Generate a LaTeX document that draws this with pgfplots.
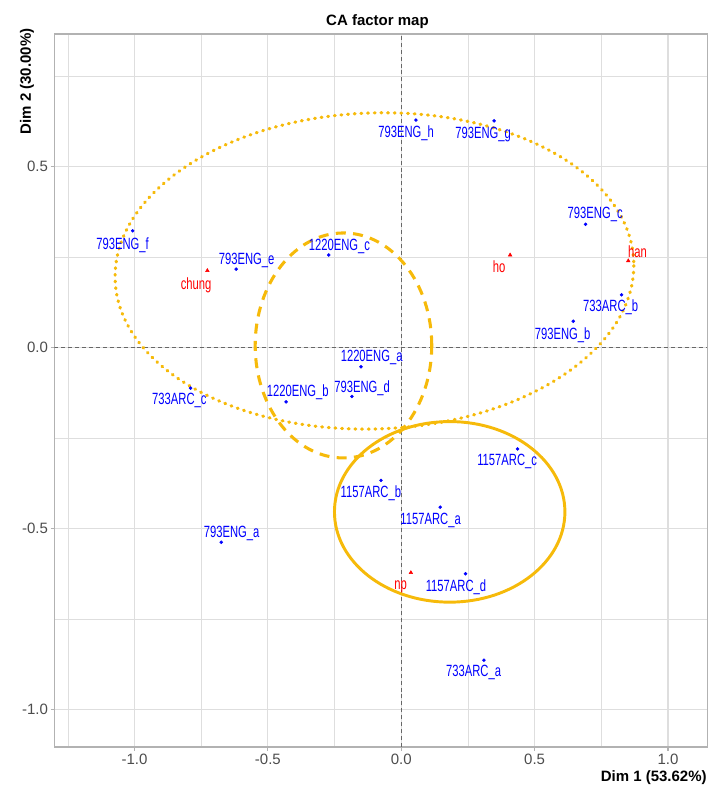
\documentclass[border=0pt]{standalone}
\usepackage{pgfplots}
\pgfplotsset{compat=1.18}
\usepackage{pgfplotstable}
\usepackage{fontspec}
\setmainfont{Liberation Sans}
\newfontfamily\narrowfont[FakeStretch=0.69]{Liberation Sans}
\definecolor{grid87}{gray}{0.87}
\definecolor{grey70}{gray}{0.70}
\definecolor{grey30}{gray}{0.30}
\definecolor{ellcol}{RGB}{246,186,10}

% row points (blue)
\pgfplotstableread{
x y
-1.007 0.323
-0.619 0.217
-0.272 0.256
0.055 0.629
0.348 0.627
0.691 0.341
0.826 0.146
0.645 0.073
-0.790 -0.112
-0.432 -0.150
-0.185 -0.135
-0.151 -0.053
-0.675 -0.538
0.436 -0.280
-0.076 -0.367
0.146 -0.441
0.241 -0.625
0.310 -0.864
}\rowpts

% row labels (label centres)
\pgfplotstableread{
x y label
-1.045 0.284 793ENG\_f
-0.580 0.240 793ENG\_e
-0.232 0.281 1220ENG\_c
0.018 0.593 793ENG\_h
0.307 0.590 793ENG\_g
0.727 0.369 793ENG\_c
0.785 0.112 733ARC\_b
0.605 0.035 793ENG\_b
-0.832 -0.146 733ARC\_c
-0.388 -0.124 1220ENG\_b
-0.147 -0.112 793ENG\_d
-0.111 -0.027 1220ENG\_a
-0.636 -0.515 793ENG\_a
0.397 -0.315 1157ARC\_c
-0.114 -0.402 1157ARC\_b
0.110 -0.479 1157ARC\_a
0.205 -0.661 1157ARC\_d
0.271 -0.898 733ARC\_a
}\rowlab

% column points (red)
\pgfplotstableread{
x y
-0.727 0.213
0.408 0.256
0.851 0.240
0.036 -0.622
}\colpts

\pgfplotstableread{
x y label
-0.769 0.173 chung
0.367 0.224 ho
0.886 0.265 han
-0.002 -0.661 np
}\collab

\begin{document}
\begin{tikzpicture}
\useasboundingbox (-40.7pt,-29.25pt) rectangle (493.3pt,560.25pt);
\begin{axis}[
  at={(0pt,0pt)}, anchor=south west,
  scale only axis, width=489.9pt, height=534.75pt,
  xmin=-1.301, xmax=1.148, ymin=-1.104, ymax=0.867,
  xtick={-1,-0.5,0,0.5,1}, ytick={-1,-0.5,0,0.5},
  minor xtick={-1.25,-0.75,-0.25,0.25,0.75},
  minor ytick={-0.75,-0.25,0.25,0.75},
  grid=both,
  major grid style={draw=grid87, line width=0.8pt},
  minor grid style={draw=grid87, line width=0.5pt},
  axis line style={draw=grey70, line width=0.8pt},
  tick align=outside, major tick length=2.7pt, minor tick length=0pt,
  tick style={draw=grey70, line width=0.8pt},
  xtick pos=lower, ytick pos=left,
  /pgf/number format/.cd, fixed, fixed zerofill, precision=1, assume math mode=true,
  /pgfplots/.cd,
  ticklabel style={font=\fontsize{11.25}{13}\selectfont, text=grey30, inner sep=0pt},
  xticklabel style={anchor=north, yshift=-2.4pt},
  yticklabel style={anchor=east, xshift=-1.8pt},
  clip=true,
]
\addplot[draw=grey30!85, dash pattern=on 3pt off 2.2pt, line width=0.6pt] coordinates {(0,-1.104) (0,0.867)};
\addplot[draw=grey30!85, dash pattern=on 3pt off 2.2pt, line width=0.6pt] coordinates {(-1.301,0) (1.148,0)};

\addplot[only marks, mark=*, mark size=1.1pt, color=blue] table[x=x,y=y] \rowpts;
\addplot[only marks, mark=triangle*, mark size=1.5pt, color=red] table[x=x,y=y] \colpts;

\addplot[draw=none, mark=none, nodes near coords, point meta=explicit symbolic,
  nodes near coords align=center,
  every node near coord/.style={font=\narrowfont\fontsize{12.2}{14}\selectfont, text=blue, inner sep=0pt, anchor=center}]
  table[x=x,y=y,meta=label] \rowlab;
\addplot[draw=none, mark=none, nodes near coords, point meta=explicit symbolic,
  nodes near coords align=center,
  every node near coord/.style={font=\narrowfont\fontsize{12.2}{14}\selectfont, text=red, inner sep=0pt, anchor=center}]
  table[x=x,y=y,meta=label] \collab;

\draw[ellcol, line width=2.4pt, line cap=round, dash pattern=on 0.6pt off 4.4pt] (axis cs:-0.1005,0.212) ellipse [x radius=194.6pt, y radius=118.5pt, rotate=2];
\draw[ellcol, line width=2.3pt, dash pattern=on 7.5pt off 5.5pt] (axis cs:-0.2167,0.006) ellipse [x radius=0.331, y radius=0.311];
\draw[ellcol, line width=2.2pt] (axis cs:0.1815,-0.454) ellipse [x radius=0.432, y radius=0.2496];
\end{axis}
\node[font=\bfseries\fontsize{11.25}{13}\selectfont, anchor=base] at (242.4pt,540.75pt) {CA factor map};
\node[font=\bfseries\fontsize{11.25}{13}\selectfont, anchor=base east, inner sep=0pt] at (489.5pt,-26pt) {Dim 1 (53.62\%)};
\node[font=\bfseries\fontsize{11.25}{13}\selectfont, rotate=90, anchor=base east, inner sep=0pt] at (-17.5pt,539pt) {Dim 2 (30.00\%)};
\end{tikzpicture}
\end{document}
